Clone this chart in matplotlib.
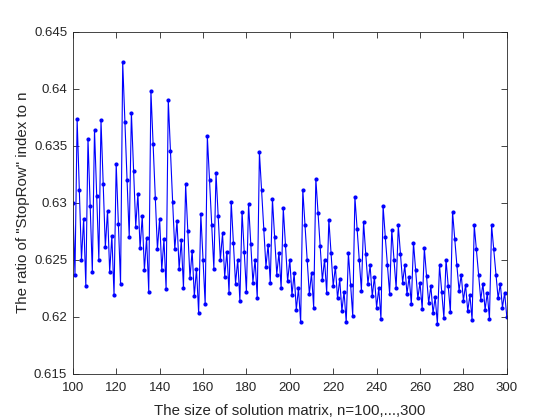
import numpy as np
import matplotlib
matplotlib.use("Agg")
import matplotlib.pyplot as plt

# matrix sizes n = 100..300
n_values = np.arange(100, 301)

# ratio of StopRow index to n
ratio = [
    0.6300, 0.6237, 0.6373, 0.6311, 0.6250, 0.6286, 0.6227, 0.6356, 0.6297, 0.6239,
    0.6364, 0.6306, 0.6250, 0.6372, 0.6316, 0.6261, 0.6293, 0.6239, 0.6271, 0.6219,
    0.6334, 0.6281, 0.6229, 0.6423, 0.6371, 0.6320, 0.6270, 0.6379, 0.6328, 0.6279,
    0.6308, 0.6260, 0.6288, 0.6241, 0.6269, 0.6222, 0.6398, 0.6351, 0.6304, 0.6259,
    0.6286, 0.6241, 0.6268, 0.6224, 0.6390, 0.6345, 0.6301, 0.6259, 0.6284, 0.6242,
    0.6267, 0.6225, 0.6316, 0.6275, 0.6234, 0.6258, 0.6218, 0.6242, 0.6203, 0.6290,
    0.6250, 0.6211, 0.6358, 0.6320, 0.6280, 0.6242, 0.6326, 0.6288, 0.6250, 0.6273,
    0.6235, 0.6257, 0.6221, 0.6301, 0.6265, 0.6229, 0.6250, 0.6214, 0.6292, 0.6257,
    0.6222, 0.6299, 0.6264, 0.6230, 0.6250, 0.6216, 0.6344, 0.6311, 0.6277, 0.6244,
    0.6263, 0.6230, 0.6303, 0.6270, 0.6237, 0.6256, 0.6225, 0.6295, 0.6263, 0.6231,
    0.6250, 0.6219, 0.6238, 0.6206, 0.6225, 0.6195, 0.6311, 0.6280, 0.6250, 0.6220,
    0.6238, 0.6208, 0.6321, 0.6291, 0.6262, 0.6232, 0.6250, 0.6221, 0.6285, 0.6256,
    0.6227, 0.6244, 0.6216, 0.6233, 0.6205, 0.6222, 0.6195, 0.6256, 0.6228, 0.6201,
    0.6305, 0.6277, 0.6250, 0.6223, 0.6283, 0.6255, 0.6229, 0.6245, 0.6218, 0.6235,
    0.6208, 0.6225, 0.6198, 0.6297, 0.6270, 0.6245, 0.6220, 0.6276, 0.6250, 0.6225,
    0.6280, 0.6255, 0.6230, 0.6245, 0.6220, 0.6235, 0.6211, 0.6265, 0.6241, 0.6216,
    0.6230, 0.6207, 0.6260, 0.6236, 0.6212, 0.6227, 0.6203, 0.6217, 0.6194, 0.6245,
    0.6222, 0.6199, 0.6250, 0.6227, 0.6204, 0.6292, 0.6268, 0.6245, 0.6223, 0.6237,
    0.6214, 0.6228, 0.6205, 0.6219, 0.6197, 0.6280, 0.6259, 0.6237, 0.6215, 0.6229,
    0.6206, 0.6221, 0.6198, 0.6280, 0.6259, 0.6237, 0.6216, 0.6229, 0.6208, 0.6221,
    0.6200,
]

x_ticks = np.arange(100, 301, 20)
y_ticks = [0.615, 0.62, 0.625, 0.63, 0.635, 0.64, 0.645]
y_tick_labels = ["0.615", "0.62", "0.625", "0.63", "0.635", "0.64", "0.645"]

plt.rcParams["font.family"] = ["Liberation Sans", "DejaVu Sans"]
axis_gray = "#262626"

fig = plt.figure(figsize=(5.6, 4.2), dpi=100)
ax = fig.add_axes([0.13, 0.11, 0.775, 0.815])

ax.plot(n_values, ratio, "-", color="#0000ff", linewidth=0.8,
        marker=".", markersize=4)

ax.set_xlim(100, 300)
ax.set_ylim(0.615, 0.645)
ax.set_xticks(x_ticks)
ax.set_yticks(y_ticks)
ax.set_yticklabels(y_tick_labels)

ax.tick_params(direction="in", top=True, right=True, length=4, width=0.6,
               labelsize=9.5, colors=axis_gray)
ax.tick_params(axis="x", pad=6)
ax.tick_params(axis="y", pad=4)
for s in ax.spines.values():
    s.set_color(axis_gray)
    s.set_linewidth(0.6)

ax.set_xlabel("The size of solution matrix, n=100,...,300", fontsize=10.8,
              color=axis_gray, labelpad=7)
ax.set_ylabel('The ratio of "StopRow" index to n', fontsize=10.8,
              color=axis_gray, labelpad=3)

fig.savefig("out.png", dpi=100, facecolor="white")
